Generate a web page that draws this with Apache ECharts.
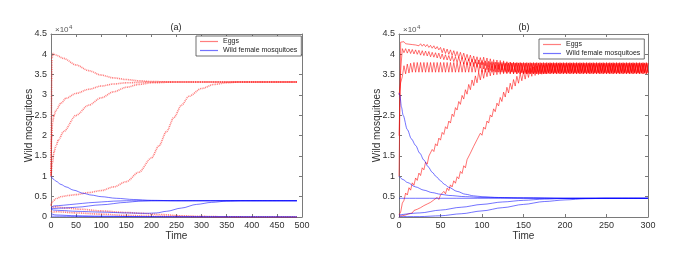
<!DOCTYPE html>
<html><head><meta charset="utf-8">
<script src="https://cdn.jsdelivr.net/npm/echarts@6/dist/echarts.min.js"></script>
<style>html,body{margin:0;padding:0;background:#fff}#c{width:691px;height:256px}</style>
</head><body><div id="c"></div>
<script>
// ---------- Panel (a): [time, value in 10^4] ----------
const eggsA1 = [[0,1.0],[2,3.9],[4,4.02],[10,3.98],[25,3.9],[50,3.74],[75,3.6],[100,3.49],[125,3.42],[150,3.38],[175,3.35],[200,3.33],[250,3.32],[300,3.32],[350,3.32],[400,3.32],[450,3.32],[490,3.32]];
const eggsA2 = [[0,1.05],[1,1.9],[3,2.3],[6,2.5],[10,2.63],[20,2.8],[30,2.92],[50,3.04],[75,3.14],[100,3.22],[125,3.27],[150,3.3],[200,3.32],[250,3.32],[490,3.32]];
const eggsA3 = [[0,1.0],[3,1.35],[6,1.6],[10,1.75],[15,1.9],[25,2.1],[50,2.5],[75,2.75],[100,2.93],[125,3.08],[150,3.19],[175,3.26],[200,3.3],[250,3.32],[490,3.32]];
const eggsA4 = [[0,0.3],[3,0.38],[10,0.45],[20,0.5],[35,0.53],[50,0.55],[75,0.6],[100,0.65],[125,0.74],[150,0.87],[175,1.1],[200,1.45],[215,1.75],[230,2.1],[245,2.45],[260,2.75],[275,2.97],[300,3.16],[325,3.26],[350,3.3],[375,3.32],[490,3.32]];
const eggsA5 = [[0,0.3],[3,0.24],[10,0.25],[30,0.22],[60,0.19],[100,0.15],[150,0.11],[180,0.09],[220,0.06],[260,0.03],[300,0.015],[350,0.005],[400,0],[490,0]];
const eggsA6 = [[0,0.15],[5,0.12],[10,0.13],[50,0.1],[100,0.07],[150,0.04],[200,0.02],[250,0.01],[300,0],[490,0]];

const wildA1 = [[0,1.0],[5,0.93],[10,0.88],[20,0.8],[30,0.74],[45,0.66],[65,0.58],[80,0.54],[100,0.5],[130,0.46],[165,0.43],[200,0.41],[250,0.4],[490,0.4]];
const wildA2 = [[0,0.22],[5,0.27],[25,0.29],[50,0.32],[75,0.35],[100,0.37],[125,0.39],[150,0.4],[490,0.4]];
const wildA3 = [[0,0.2],[5,0.21],[25,0.22],[50,0.24],[100,0.3],[150,0.36],[175,0.39],[200,0.4],[490,0.4]];
const wildA4 = [[0,0.2],[5,0.17],[20,0.16],[50,0.14],[100,0.12],[150,0.1],[190,0.09],[210,0.1],[230,0.14],[260,0.22],[290,0.31],[320,0.36],[350,0.39],[380,0.4],[490,0.4]];
const wildA5 = [[0,0.08],[10,0.05],[50,0.03],[100,0.02],[200,0.005],[300,0],[490,0]];
const wildA6 = [[0,0.02],[100,0.01],[490,0]];

// ---------- Panel (b): eggs sampled every 2 time units (values in 10^4) ----------
const T_STEP_B = 2;
const eggsB1 = [
1.00,4.30,4.27,4.31,4.26,4.30,4.25,4.29,4.24,4.28,
4.23,4.27,4.21,4.26,4.20,4.25,4.19,4.24,4.17,4.22,
4.15,4.21,4.13,4.19,4.11,4.17,4.04,4.15,4.02,4.13,
4.00,4.11,3.97,4.09,3.95,4.07,3.92,4.05,3.89,4.03,
3.87,4.00,3.84,3.98,3.81,3.96,3.78,3.94,3.76,3.92,
3.74,3.93,3.72,3.91,3.69,3.89,3.67,3.87,3.65,3.86,
3.63,3.85,3.61,3.84,3.60,3.82,3.58,3.81,3.57,3.80,
3.56,3.79,3.55,3.79,3.54,3.78,3.53,3.78,3.53,3.78,
3.53,3.78,3.53,3.78,3.53,3.78,3.53,3.78,3.53,3.78,
3.53,3.78,3.53,3.78,3.53,3.78,3.53,3.78,3.53,3.78,
3.53,3.78,3.53,3.78,3.53,3.78,3.53,3.78,3.53,3.78,
3.53,3.78,3.53,3.78,3.53,3.78,3.53,3.78,3.53,3.78,
3.53,3.78,3.53,3.78,3.53,3.78,3.53,3.78,3.53,3.78,
3.53,3.78,3.53,3.78,3.53,3.78,3.53,3.78,3.53,3.78,
3.53,3.78,3.53,3.78,3.53,3.78,3.53,3.78,3.53,3.78,
3.53];
const eggsB2 = [
2.00,3.60,4.14,4.04,4.14,4.03,4.13,4.02,4.12,4.01,
4.11,4.00,4.10,3.98,4.09,3.97,4.08,3.96,4.07,3.94,
4.05,3.93,4.04,3.91,4.03,3.89,4.01,3.87,3.99,3.86,
3.97,3.84,3.96,3.82,3.94,3.80,3.93,3.78,3.92,3.76,
3.90,3.74,3.89,3.72,3.88,3.70,3.87,3.68,3.86,3.66,
3.85,3.64,3.84,3.62,3.83,3.60,3.82,3.58,3.81,3.57,
3.80,3.56,3.80,3.55,3.79,3.54,3.79,3.53,3.79,3.52,
3.79,3.52,3.79,3.52,3.79,3.52,3.79,3.52,3.79,3.52,
3.79,3.52,3.79,3.52,3.79,3.52,3.79,3.52,3.79,3.52,
3.79,3.52,3.79,3.52,3.79,3.52,3.79,3.52,3.79,3.52,
3.79,3.52,3.79,3.52,3.79,3.52,3.79,3.52,3.79,3.52,
3.79,3.52,3.79,3.52,3.79,3.52,3.79,3.52,3.79,3.52,
3.79,3.52,3.79,3.52,3.79,3.52,3.79,3.52,3.79,3.52,
3.79,3.52,3.79,3.52,3.79,3.52,3.79,3.52,3.79,3.52,
3.79,3.52,3.79,3.52,3.79,3.52,3.79,3.52,3.79,3.52,
3.79];
const eggsB3 = [
3.00,3.30,3.45,3.72,3.52,3.76,3.54,3.78,3.56,3.80,
3.56,3.80,3.56,3.80,3.56,3.80,3.56,3.80,3.56,3.80,
3.56,3.80,3.56,3.80,3.56,3.80,3.56,3.80,3.56,3.80,
3.56,3.80,3.56,3.80,3.56,3.80,3.56,3.80,3.56,3.80,
3.56,3.80,3.56,3.80,3.56,3.80,3.56,3.80,3.56,3.80,
3.56,3.80,3.56,3.80,3.56,3.80,3.56,3.80,3.56,3.80,
3.56,3.80,3.56,3.80,3.56,3.80,3.56,3.80,3.56,3.80,
3.56,3.80,3.56,3.80,3.56,3.80,3.56,3.80,3.56,3.80,
3.56,3.80,3.56,3.80,3.56,3.80,3.56,3.80,3.56,3.80,
3.56,3.80,3.56,3.80,3.56,3.80,3.56,3.80,3.56,3.80,
3.56,3.80,3.56,3.80,3.56,3.80,3.56,3.80,3.56,3.80,
3.56,3.80,3.56,3.80,3.56,3.80,3.56,3.80,3.56,3.80,
3.56,3.80,3.56,3.80,3.56,3.80,3.56,3.80,3.56,3.80,
3.56,3.80,3.56,3.80,3.56,3.80,3.56,3.80,3.56,3.80,
3.56,3.80,3.56,3.80,3.56,3.80,3.56,3.80,3.56,3.80,
3.56];
const eggsB4 = [
0.05,0.12,0.34,0.41,0.59,0.54,0.72,0.66,0.84,0.78,
0.96,0.90,1.08,1.02,1.21,1.16,1.35,1.30,1.50,1.46,
1.66,1.61,1.80,1.75,1.94,1.89,2.08,2.03,2.22,2.17,
2.36,2.31,2.53,2.47,2.69,2.63,2.84,2.77,2.99,2.90,
3.13,3.02,3.26,3.13,3.37,3.23,3.47,3.30,3.56,3.37,
3.61,3.41,3.65,3.45,3.68,3.47,3.71,3.49,3.73,3.50,
3.75,3.51,3.76,3.52,3.77,3.52,3.78,3.52,3.78,3.52,
3.78,3.52,3.78,3.52,3.78,3.52,3.78,3.52,3.78,3.52,
3.78,3.52,3.78,3.52,3.78,3.52,3.78,3.52,3.78,3.52,
3.78,3.52,3.78,3.52,3.78,3.52,3.78,3.52,3.78,3.52,
3.78,3.52,3.78,3.52,3.78,3.52,3.78,3.52,3.78,3.52,
3.78,3.52,3.78,3.52,3.78,3.52,3.78,3.52,3.78,3.52,
3.78,3.52,3.78,3.52,3.78,3.52,3.78,3.52,3.78,3.52,
3.78,3.52,3.78,3.52,3.78,3.52,3.78,3.52,3.78,3.52,
3.78,3.52,3.78,3.52,3.78,3.52,3.78,3.52,3.78,3.52,
3.78];
const eggsB5 = [
0.02,0.04,0.03,0.06,0.05,0.09,0.08,0.12,0.10,0.16,
0.13,0.19,0.17,0.23,0.21,0.28,0.25,0.32,0.29,0.36,
0.33,0.42,0.38,0.48,0.43,0.54,0.50,0.63,0.57,0.71,
0.65,0.79,0.74,0.89,0.83,0.99,0.94,1.12,1.07,1.26,
1.21,1.41,1.37,1.57,1.54,1.74,1.70,1.90,1.86,2.06,
2.01,2.21,2.16,2.36,2.31,2.51,2.46,2.66,2.59,2.80,
2.73,2.94,2.84,3.07,2.95,3.19,3.05,3.29,3.14,3.38,
3.22,3.46,3.29,3.53,3.35,3.58,3.39,3.62,3.43,3.66,
3.46,3.69,3.48,3.71,3.50,3.73,3.51,3.74,3.52,3.75,
3.54,3.77,3.54,3.77,3.54,3.77,3.54,3.77,3.54,3.77,
3.54,3.77,3.54,3.77,3.54,3.77,3.54,3.77,3.54,3.77,
3.54,3.77,3.54,3.77,3.54,3.77,3.54,3.77,3.54,3.77,
3.54,3.77,3.54,3.77,3.54,3.77,3.54,3.77,3.54,3.77,
3.54,3.77,3.54,3.77,3.54,3.77,3.54,3.77,3.54,3.77,
3.54,3.77,3.54,3.77,3.54,3.77,3.54,3.77,3.54,3.77,
3.54];

const wildB1 = [[0,3.05],[1,3.0],[3,2.7],[5,2.5],[10,2.15],[15,1.92],[20,1.76],[25,1.57],[30,1.4],[35,1.24],[40,1.1],[45,0.99],[50,0.89],[55,0.8],[60,0.73],[70,0.63],[80,0.56],[90,0.52],[100,0.5],[120,0.48],[150,0.47],[200,0.46],[300,0.46]];
const wildB2 = [[0,1.0],[5,0.92],[10,0.85],[20,0.74],[30,0.66],[40,0.6],[50,0.56],[60,0.53],[80,0.5],[100,0.48],[150,0.47],[200,0.46],[300,0.46]];
const wildB3 = [[0,0.46],[300,0.46]];
const wildB4 = [[0,0.05],[25,0.1],[50,0.17],[75,0.24],[100,0.31],[125,0.37],[150,0.41],[175,0.44],[200,0.455],[250,0.46],[300,0.46]];
const wildB5 = [[0,0.02],[10,0.01],[25,0.01],[50,0.03],[75,0.08],[100,0.15],[125,0.23],[150,0.31],[175,0.38],[200,0.42],[225,0.45],[250,0.46],[300,0.46]];

const X_MAX_A = 500, X_MAX_B = 300;
const Y_MAX = 4.5;
const TITLES = ['(a)', '(b)'];
const LEGEND_NAMES = ['Eggs', 'Wild female mosquitoes'];

// ---------- chart ----------
const FONT = '"Liberation Sans", Arial, sans-serif';
const AX = '#7a7a7a', LBL = '#303030';
const RED_A = 'rgba(255,20,20,0.55)', RED_B = 'rgba(255,0,0,0.55)', BLUE = 'rgba(0,0,255,0.55)';

const grids = [
  {left: 51, top: 34, width: 251, height: 183},
  {left: 399, top: 34, width: 249, height: 183}
];
function xBottom(gi, max) {
  return {gridIndex: gi, type: 'value', min: 0, max: max, interval: 50, position: 'bottom',
    axisLine: {show: true, onZero: false, lineStyle: {color: AX, width: 1}},
    axisTick: {show: true, inside: true, length: 3, lineStyle: {color: AX}},
    axisLabel: {color: LBL, fontSize: 9, fontFamily: FONT, margin: 4},
    splitLine: {show: false},
    name: 'Time', nameLocation: 'middle', nameGap: 14, nameMoveOverlap: false,
    nameTextStyle: {color: LBL, fontSize: 10, fontFamily: FONT}};
}
function xTop(gi, max) {
  return {gridIndex: gi, type: 'value', min: 0, max: max, interval: 50, position: 'top',
    axisLine: {show: true, onZero: false, lineStyle: {color: AX, width: 1}},
    axisTick: {show: true, inside: true, length: 3, lineStyle: {color: AX}},
    axisLabel: {show: false}, splitLine: {show: false}};
}
function yLeft(gi) {
  return {gridIndex: gi, type: 'value', min: 0, max: Y_MAX, interval: 0.5, position: 'left',
    axisLine: {show: true, onZero: false, lineStyle: {color: AX, width: 1}},
    axisTick: {show: true, inside: true, length: 3, lineStyle: {color: AX}},
    axisLabel: {color: LBL, fontSize: 9, fontFamily: FONT, margin: 4, formatter: v => String(v)},
    splitLine: {show: false},
    name: 'Wild mosquitoes', nameLocation: 'middle', nameGap: 17, nameMoveOverlap: false,
    nameTextStyle: {color: LBL, fontSize: 10, fontFamily: FONT}};
}
function yRight(gi) {
  return {gridIndex: gi, type: 'value', min: 0, max: Y_MAX, interval: 0.5, position: 'right',
    axisLine: {show: true, onZero: false, lineStyle: {color: AX, width: 1}},
    axisTick: {show: true, inside: true, length: 3, lineStyle: {color: AX}},
    axisLabel: {show: false}, splitLine: {show: false}};
}

function mk(data, xi, yi, name, color, width, type, smooth) {
  return {type: 'line', name: name, xAxisIndex: xi, yAxisIndex: yi, data: data,
    showSymbol: false, symbol: 'none', silent: true, smooth: smooth, smoothMonotone: 'x',
    clip: true,
    lineStyle: {color: color, width: width, type: type}, itemStyle: {color: color}};
}
const stepped = arr => arr.map((v, i) => [i * T_STEP_B, v]);

const series = [];
[eggsA1, eggsA2, eggsA3, eggsA4, eggsA5, eggsA6].forEach(d =>
  series.push(mk(d, 0, 0, LEGEND_NAMES[0], RED_A, 1.6, [1, 0.8], 0.3)));
[wildA1, wildA2, wildA3, wildA4, wildA5, wildA6].forEach(d =>
  series.push(mk(d, 0, 0, LEGEND_NAMES[1], BLUE, 1, 'solid', 0.3)));
[eggsB1, eggsB2, eggsB3, eggsB4, eggsB5].forEach(d =>
  series.push(mk(stepped(d), 2, 2, LEGEND_NAMES[0], RED_B, 1, 'solid', false)));
[wildB1, wildB2, wildB3, wildB4, wildB5].forEach(d =>
  series.push(mk(d, 2, 2, LEGEND_NAMES[1], BLUE, 1, 'solid', 0.3)));

function legendAt(left, top) {
  return {show: true, orient: 'vertical', left: left, top: top, data: LEGEND_NAMES,
    icon: 'rect', itemWidth: 18, itemHeight: 1.2, itemGap: 2, padding: [2, 4, 2, 4],
    borderColor: '#333', borderWidth: 0.7, backgroundColor: '#fff', selectedMode: false,
    textStyle: {fontSize: 7, fontFamily: FONT, color: '#222'}};
}

const graphic = [];
[[176, 28, TITLES[0]], [524, 28, TITLES[1]]].forEach(([x, y, t]) =>
  graphic.push({type: 'text', x: x, y: y, silent: true,
    style: {text: t, fontSize: 9, fontFamily: FONT, fill: '#222', align: 'center', verticalAlign: 'middle'}}));
[51, 399].forEach(gx => {
  graphic.push({type: 'text', x: gx + 4, y: 30, silent: true,
    style: {text: '\u00d710', fontSize: 8, fontFamily: FONT, fill: '#555', align: 'left', verticalAlign: 'middle'}});
  graphic.push({type: 'text', x: gx + 18, y: 27, silent: true,
    style: {text: '4', fontSize: 6, fontFamily: FONT, fill: '#555', align: 'left', verticalAlign: 'middle'}});
});

const chart = echarts.init(document.getElementById('c'), null, {renderer: 'canvas'});
chart.setOption({
  animation: false,
  backgroundColor: '#fff',
  grid: grids,
  xAxis: [xBottom(0, X_MAX_A), xTop(0, X_MAX_A), xBottom(1, X_MAX_B), xTop(1, X_MAX_B)],
  yAxis: [yLeft(0), yRight(0), yLeft(1), yRight(1)],
  legend: [legendAt(196, 36), legendAt(539, 39)],
  graphic: graphic,
  series: series
});
</script></body></html>
